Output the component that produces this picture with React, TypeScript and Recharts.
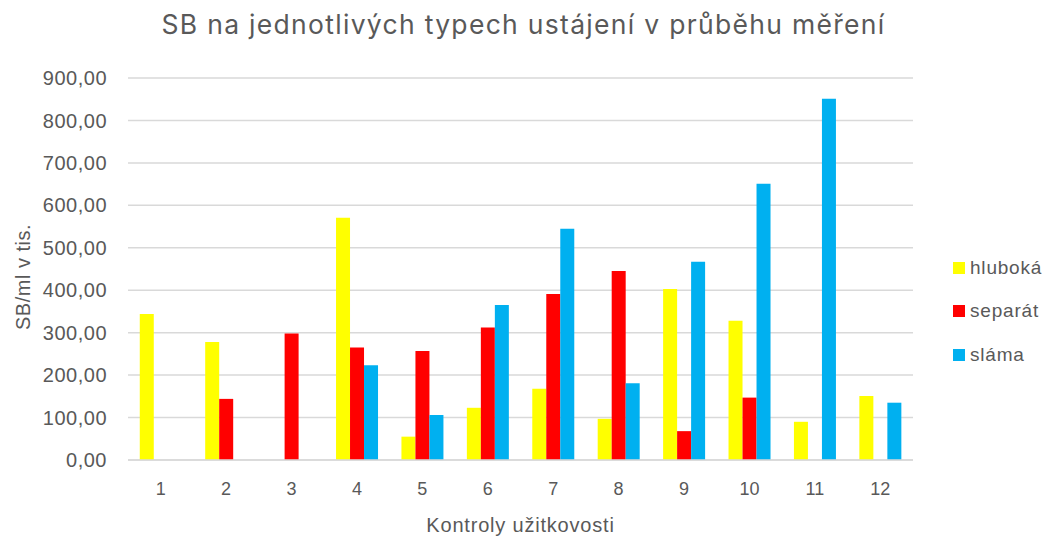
import { BarChart, Bar, XAxis, YAxis, CartesianGrid } from 'recharts';

const kontroly = ['1', '2', '3', '4', '5', '6', '7', '8', '9', '10', '11', '12'];
const hluboka = [344, 278, null, 571, 55, 123, 168, 97, 403, 328, 90, 151];
const separat = [null, 144, 298, 265, 257, 312, 391, 445, 68, 147, null, null];
const slama = [null, null, null, 223, 106, 365, 545, 181, 467, 651, 851, 135];
const yTicks = [0, 100, 200, 300, 400, 500, 600, 700, 800, 900];

const series = [
  { key: 'hluboka', name: 'hluboká', color: '#FFFF00' },
  { key: 'separat', name: 'separát', color: '#FF0000' },
  { key: 'slama', name: 'sláma', color: '#00B0F0' },
];

const data = kontroly.map((k, i) => ({
  kontrola: k,
  hluboka: hluboka[i],
  separat: separat[i],
  slama: slama[i],
}));

const gray = '#595959';
const font = '"Liberation Sans", Arial, sans-serif';

const fmt = (v: number) => v.toFixed(2).replace('.', ',');

export default function App() {
  return (
    <div style={{ position: 'absolute', left: 0, top: 0, width: 1047, height: 536, background: '#fff', fontFamily: font }}>
      <div
        style={{
          position: 'absolute', top: 8, left: 0, width: 1047, textAlign: 'center',
          fontFamily: 'Inter, "Open Sans", sans-serif', fontSize: 26.5, letterSpacing: 1.3, color: gray, lineHeight: '32px',
        }}
      >
        SB na jednotlivých typech ustájení v průběhu měření
      </div>
      <BarChart
        width={1047}
        height={536}
        data={data}
        margin={{ top: 78, right: 134, bottom: 0, left: 0 }}
        barCategoryGap="18%"
        barGap={0}
      >
        <CartesianGrid vertical={false} stroke="#d9d9d9" strokeWidth={1.5} />
        <XAxis
          dataKey="kontrola"
          height={76}
          tickLine={false}
          tickSize={0}
          tickMargin={22}
          axisLine={{ stroke: '#d9d9d9', strokeWidth: 1.5 }}
          tick={{ fill: gray, fontSize: 18, fontFamily: font }}
          label={{ value: 'Kontroly užitkovosti', position: 'insideBottom', offset: 4, fill: gray, fontSize: 20, fontFamily: font, style: { letterSpacing: 0.8 } }}
        />
        <YAxis
          width={128}
          domain={[0, 900]}
          ticks={yTicks}
          tickFormatter={fmt}
          axisLine={false}
          tickLine={false}
          tickSize={0}
          tickMargin={21}
          tick={{ fill: gray, fontSize: 20, fontFamily: font, style: { letterSpacing: 0.5 } }}
          label={{ value: 'SB/ml v tis.', angle: -90, position: 'insideLeft', offset: 23, dy: 8, fill: gray, fontSize: 20, fontFamily: font, style: { textAnchor: 'middle', letterSpacing: 0.5 } }}
        />
        {series.map((s) => (
          <Bar key={s.key} dataKey={s.key} name={s.name} fill={s.color} isAnimationActive={false} />
        ))}
      </BarChart>
      <div style={{ position: 'absolute', left: 953, top: 246 }}>
        {series.map((s) => (
          <div key={s.key} style={{ display: 'flex', alignItems: 'center', height: 43.5, fontSize: 19, letterSpacing: 0.8, color: gray }}>
            <span style={{ display: 'inline-block', width: 12, height: 12, background: s.color, marginRight: 5 }} />
            {s.name}
          </div>
        ))}
      </div>
    </div>
  );
}
